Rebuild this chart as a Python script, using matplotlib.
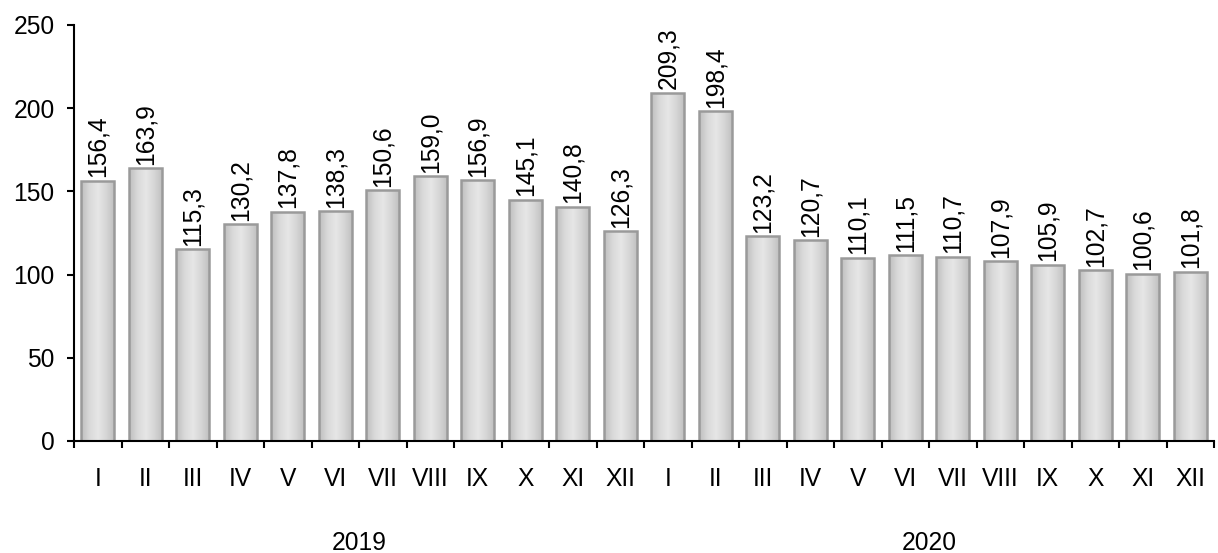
import matplotlib
matplotlib.use("Agg")
import matplotlib.pyplot as plt
import numpy as np
from matplotlib.colors import LinearSegmentedColormap

months = ["I", "II", "III", "IV", "V", "VI", "VII", "VIII", "IX", "X", "XI", "XII"] * 2
years = ["2019", "2020"]
values = [156.4, 163.9, 115.3, 130.2, 137.8, 138.3, 150.6, 159.0, 156.9, 145.1, 140.8, 126.3,
          209.3, 198.4, 123.2, 120.7, 110.1, 111.5, 110.7, 107.9, 105.9, 102.7, 100.6, 101.8]
yticks = [0, 50, 100, 150, 200, 250]

plt.rcParams['font.family'] = ['Liberation Sans', 'DejaVu Sans']
fs = 17.7

fig = plt.figure(figsize=(12.18, 5.53), dpi=100)
ax = fig.add_axes([74/1218, 1-441/553, (1214-74)/1218, (441-25)/553])

n = len(values)
x = np.arange(n)
bars = ax.bar(x, values, width=0.7, color='none', edgecolor='#9a9a9a', linewidth=1.8, zorder=3)

cmap = LinearSegmentedColormap.from_list('g', ['#bdbdbd', '#d9d9d9', '#e6e6e6', '#d6d6d6', '#bdbdbd'])
grad = np.linspace(0, 1, 256).reshape(1, -1)
for b in bars:
    x0, w, h = b.get_x(), b.get_width(), b.get_height()
    im = ax.imshow(grad, cmap=cmap, aspect='auto', extent=[x0, x0 + w, 0, h], zorder=2)
    im.set_clip_path(b)

for xi, v in zip(x, values):
    ax.text(xi, v + 2, f"{v:.1f}".replace('.', ','), rotation=90, ha='center', va='bottom',
            fontsize=fs, zorder=4)

ax.set_xlim(-0.5, n - 0.5)
ax.set_ylim(0, 250)
ax.set_yticks(yticks)
ax.set_yticklabels([str(t) for t in yticks], fontsize=fs)
ax.set_xticks(np.arange(-0.5, n, 1.0))
ax.set_xticklabels([])
ax.set_xticks(x, minor=True)
ax.set_xticklabels(months, minor=True, fontsize=fs)
ax.tick_params(axis='x', which='major', direction='out', length=5, width=1.5, color='black')
ax.tick_params(axis='x', which='minor', length=0, pad=19)
ax.tick_params(axis='y', direction='out', length=5, width=1.5, pad=9)
for s in ['top', 'right']:
    ax.spines[s].set_visible(False)
for s in ['left', 'bottom']:
    ax.spines[s].set_linewidth(1.5)
    ax.spines[s].set_zorder(5)

for i, yr in enumerate(years):
    ax.text(i * 12 + 5.5, -0.245, yr, transform=ax.get_xaxis_transform(), ha='center', va='center',
            fontsize=fs)

fig.savefig("out.png", dpi=100)
